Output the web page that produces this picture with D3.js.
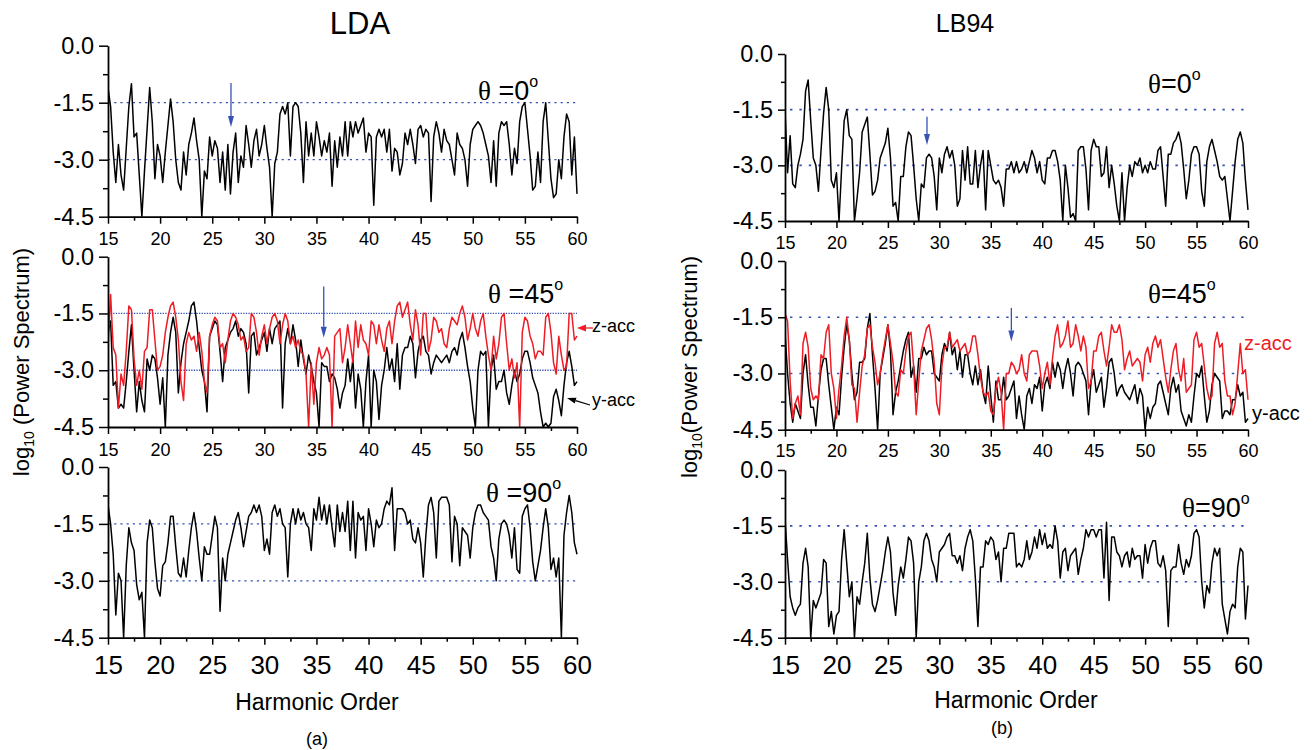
<!DOCTYPE html>
<html><head><meta charset="utf-8">
<script src="https://cdn.jsdelivr.net/npm/d3@7"></script>
<style>
body{margin:0;background:#fff}
svg{display:block}
text{font-family:"Liberation Sans",Arial,Helvetica,sans-serif;fill:#000}
</style>
</head><body>
<svg id="chart" width="1316" height="750"></svg>
<script>
// ---------- axis ticks ----------
const xTicks = [15, 20, 25, 30, 35, 40, 45, 50, 55, 60];
const xMinorTicks = [17.5, 22.5, 27.5, 32.5, 37.5, 42.5, 47.5, 52.5, 57.5];
const yTicks = [0, -1.5, -3, -4.5];
const yMinorTicks = [-0.75, -2.25, -3.75];
const refLevels = [-1.5, -3.0];
const xDomain = [15, 60];
const yDomain = [-4.5, 0];

// ---------- data: log10(power spectrum), harmonic 15..60, step 0.25 ----------
const ldaTheta0 = [
-1.1,-1.6,-2.8,-3.6, -2.6,-3.4,-3.8,-2.7, -1.6,-1.0,-2.4,-2.3, -3.4,-4.5,-3.3,-2.2,
-1.1,-2.0,-3.5,-2.6, -2.9,-3.6,-2.8,-2.1, -1.4,-2.0,-3.0,-3.6, -3.8,-2.8,-3.4,-2.6,
-2.3,-1.9,-2.5,-3.0, -4.5,-3.3,-3.5,-2.4, -2.9,-2.5,-2.7,-3.6, -2.8,-3.8,-2.6,-3.9,
-2.8,-2.3,-3.6,-2.9, -3.2,-2.1,-2.6,-3.2, -2.5,-2.2,-2.9,-2.6, -2.1,-2.7,-3.2,-4.5,
-3.1,-2.8,-1.8,-1.6, -1.8,-1.5,-2.9,-1.6, -1.5,-1.6,-2.3,-3.6, -2.0,-2.9,-2.3,-2.9,
-2.0,-2.4,-2.9,-2.5, -2.8,-2.3,-3.7,-2.5, -3.2,-2.4,-2.9,-2.0, -2.9,-2.0,-2.4,-2.0,
-2.3,-2.1,-1.9,-2.8, -2.3,-2.4,-4.2,-2.4, -2.2,-2.4,-2.2,-2.8, -2.2,-3.3,-2.7,-2.8,
-3.4,-3.1,-2.3,-2.6, -2.2,-2.6,-3.1,-2.2, -2.1,-2.4,-2.2,-2.3, -4.1,-2.4,-2.0,-2.3,
-2.8,-2.2,-2.5,-2.6, -3.0,-3.4,-2.3,-2.6, -2.7,-3.0,-3.7,-2.6, -2.2,-2.1,-2.0,-2.1,
-2.3,-2.6,-2.9,-3.6, -2.5,-3.7,-2.3,-2.0, -2.1,-2.0,-2.6,-3.4, -2.7,-3.1,-2.0,-1.6,
-1.5,-2.2,-2.9,-3.8, -3.7,-2.8,-3.6,-2.0, -1.5,-2.5,-3.5,-4.0, -3.9,-3.0,-3.5,-2.4,
-1.8,-2.0,-3.4,-2.4, -3.9
];
const ldaTheta45Y = [
-2.0,-1.7,-3.4,-3.3, -4.0,-3.9,-4.0,-3.3, -2.5,-1.8,-3.0,-4.1, -3.3,-3.8,-4.1,-2.7,
-3.0,-2.6,-2.7,-3.2, -3.9,-3.2,-4.5,-2.6, -2.0,-1.6,-2.0,-3.6, -2.8,-2.3,-2.0,-1.7,
-1.3,-1.2,-1.7,-2.4, -3.0,-3.3,-4.1,-2.1, -1.9,-1.7,-1.8,-2.5, -3.3,-2.4,-2.2,-2.0,
-1.9,-1.7,-2.1,-1.9, -2.0,-2.3,-3.6,-2.1, -2.0,-2.6,-2.4,-2.2, -2.0,-2.5,-1.9,-2.3,
-1.9,-1.8,-1.7,-4.0, -2.3,-1.9,-2.3,-1.8, -2.2,-2.9,-2.2,-2.7, -3.1,-2.6,-2.9,-3.3,
-3.6,-4.5,-2.8,-2.9, -2.9,-3.3,-3.1,-3.2, -3.5,-4.0,-3.6,-3.4, -2.7,-3.3,-2.7,-4.0,
-3.1,-3.5,-4.5,-3.3, -2.6,-4.5,-3.0,-3.3, -4.3,-3.4,-3.0,-2.4, -3.0,-2.7,-3.3,-2.3,
-3.5,-2.6,-2.4,-2.4, -2.1,-2.3,-3.2,-2.5, -2.2,-2.1,-2.5,-2.6, -3.1,-2.8,-2.6,-2.7,
-2.8,-2.7,-2.6,-2.8, -2.5,-2.4,-2.6,-2.2, -2.0,-2.4,-2.9,-3.3, -4.0,-4.5,-3.0,-2.5,
-2.6,-2.5,-4.5,-3.0, -2.6,-3.5,-3.3,-3.3, -3.0,-3.6,-3.9,-3.4, -3.0,-3.3,-3.1,-2.7,
-2.5,-2.5,-2.8,-3.2, -3.4,-3.6,-4.1,-4.5, -4.4,-4.5,-4.4,-3.7, -3.5,-3.8,-4.2,-3.4,
-2.8,-2.5,-2.9,-3.4, -3.3
];
const ldaTheta45Z = [
-2.4,-1.0,-2.4,-2.6, -4.0,-3.1,-3.4,-2.5, -1.3,-1.4,-2.7,-3.4, -3.0,-3.5,-2.5,-2.4,
-1.4,-1.4,-2.2,-3.0, -2.9,-2.6,-2.0,-1.6, -1.3,-1.2,-1.6,-2.2, -3.3,-3.8,-2.3,-2.0,
-2.2,-2.1,-2.5,-2.0, -2.5,-3.3,-3.6,-2.1, -1.8,-1.6,-1.7,-2.4, -2.3,-2.8,-2.2,-1.7,
-1.5,-1.6,-1.8,-2.2, -2.1,-2.5,-2.4,-1.5, -1.6,-2.0,-2.6,-2.1, -1.8,-2.3,-1.9,-1.6,
-1.5,-1.7,-2.3,-1.8, -1.5,-1.7,-2.3,-2.1, -2.4,-2.2,-2.5,-2.6, -3.1,-4.5,-2.8,-3.9,
-2.8,-2.4,-2.7,-2.6, -2.4,-2.6,-4.5,-2.1, -2.0,-1.9,-2.8,-2.4, -1.8,-2.3,-2.8,-1.7,
-2.4,-1.8,-2.2,-2.3, -2.6,-1.7,-1.8,-2.3, -1.8,-2.2,-2.5,-1.9, -1.7,-2.3,-1.7,-1.3,
-1.2,-1.6,-1.4,-1.2, -1.8,-2.2,-1.4,-1.8, -2.6,-1.5,-1.5,-2.5, -2.2,-1.6,-1.7,-2.0,
-1.9,-2.3,-2.4,-1.9, -1.6,-1.7,-1.8,-1.5, -1.3,-1.6,-2.2,-1.9, -1.5,-1.9,-2.1,-1.7,
-1.5,-2.1,-2.6,-3.0, -2.1,-2.7,-2.3,-1.6, -1.5,-2.3,-3.0,-2.7, -3.2,-2.8,-4.5,-2.0,
-1.6,-1.7,-2.1,-2.3, -2.7,-2.5,-2.5,-2.6, -1.6,-1.5,-2.0,-2.8, -3.1,-2.1,-2.6,-3.0,
-2.9,-1.5,-1.5,-2.2, -2.1
];
const ldaTheta90 = [
-1.0,-1.5,-2.3,-3.9, -2.8,-3.0,-4.5,-2.6, -1.6,-2.0,-2.2,-3.1, -3.5,-3.3,-4.5,-2.0,
-1.4,-1.6,-2.5,-3.2, -3.4,-2.6,-2.5,-2.0, -1.3,-1.3,-2.1,-2.8, -2.9,-2.4,-2.9,-2.2,
-1.6,-1.2,-1.7,-2.4, -3.0,-2.1,-2.3,-2.3, -1.8,-1.3,-1.6,-3.8, -2.4,-3.0,-2.3,-2.0,
-1.7,-1.4,-1.2,-1.6, -2.1,-1.7,-1.3,-1.2, -1.0,-1.2,-1.0,-1.3, -2.2,-1.9,-2.3,-1.2,
-1.0,-1.3,-1.1,-1.5, -1.6,-2.9,-1.5,-1.1, -1.5,-1.1,-1.4,-1.2, -1.5,-1.6,-2.2,-1.1,
-1.4,-0.8,-1.4,-1.0, -1.5,-1.0,-1.6,-2.1, -1.0,-1.7,-1.2,-1.7, -0.9,-2.2,-0.9,-2.4,
-1.2,-1.4,-1.3,-2.2, -1.1,-1.5,-2.1,-1.4, -1.6,-1.5,-1.1,-0.9, -1.0,-0.55,-2.2,-1.1,
-1.1,-1.1,-1.2,-1.5, -1.4,-1.9,-2.0,-1.6, -2.0,-2.9,-1.8,-1.0, -0.8,-1.2,-2.4,-0.9,
-0.8,-0.8,-0.8,-1.0, -2.5,-1.3,-1.5,-2.6, -1.6,-1.7,-1.8,-2.4, -1.6,-1.2,-1.0,-1.0,
-1.2,-1.3,-1.4,-2.1, -2.4,-3.0,-1.9,-1.5, -1.4,-1.5,-1.8,-2.4, -1.6,-2.7,-2.8,-1.3,
-1.1,-1.0,-1.6,-2.5, -3.0,-2.6,-2.2,-1.6, -1.1,-1.6,-2.7,-2.4, -2.9,-2.4,-4.5,-1.8,
-1.2,-0.75,-1.2,-2.0, -2.3
];
const lbTheta0 = [
-1.5,-3.2,-2.2,-3.5, -3.6,-3.0,-2.7,-2.3, -1.0,-0.7,-1.8,-2.8, -3.0,-3.7,-2.6,-1.6,
-0.9,-1.5,-3.4,-3.6, -3.2,-4.5,-3.1,-1.8, -1.5,-2.2,-2.3,-4.5, -3.9,-3.2,-2.1,-1.9,
-1.7,-2.7,-3.8,-3.7, -3.4,-2.8,-2.6,-2.4, -2.0,-2.8,-4.1,-4.0, -4.5,-3.3,-3.3,-2.5,
-2.1,-2.2,-3.0,-3.9, -4.5,-3.5,-3.6,-2.8, -2.7,-2.8,-3.3,-4.2, -2.8,-3.2,-2.7,-2.5,
-2.8,-2.6,-3.0,-4.1, -3.9,-2.6,-3.4,-2.5, -3.5,-3.5,-2.6,-3.6, -3.0,-2.6,-4.2,-2.6,
-3.0,-3.4,-3.5,-3.4, -3.6,-4.1,-3.1,-3.1, -2.9,-3.2,-2.9,-3.2, -3.1,-2.9,-3.2,-2.9,
-2.6,-2.8,-3.2,-2.9, -3.4,-3.5,-2.8,-2.8, -2.6,-2.6,-2.9,-3.4, -4.5,-3.0,-3.6,-4.4,
-4.3,-4.5,-2.6,-2.5, -2.5,-3.1,-4.2,-2.6, -2.3,-2.5,-2.5,-3.3, -3.2,-2.5,-3.6,-3.0,
-3.5,-4.1,-4.5,-3.2, -4.5,-3.6,-3.0,-3.3, -2.9,-3.0,-2.8,-3.2, -3.0,-3.2,-2.9,-3.1,
-3.1,-2.6,-2.5,-3.3, -4.1,-2.7,-2.7,-2.4, -2.3,-2.1,-2.4,-3.1, -3.9,-3.4,-2.7,-2.5,
-2.5,-2.7,-3.7,-4.1, -2.9,-2.5,-2.3,-2.6, -2.9,-3.3,-3.4,-3.3, -3.9,-4.5,-3.7,-2.9,
-2.3,-2.1,-2.4,-3.4, -4.2
];
const lbTheta45Y = [
-1.9,-3.0,-3.8,-4.3, -3.8,-4.0,-4.2,-3.0, -2.5,-3.3,-3.9,-3.9, -4.4,-3.6,-2.9,-2.6,
-2.6,-3.3,-3.9,-4.5, -3.9,-4.1,-3.1,-2.3, -1.7,-2.1,-3.0,-3.7, -3.5,-2.7,-2.7,-2.6,
-1.8,-1.4,-2.5,-3.4, -4.5,-3.0,-2.6,-2.2, -1.7,-2.4,-4.1,-3.5, -3.2,-2.8,-2.4,-2.1,
-1.9,-3.1,-2.8,-3.5, -2.6,-2.6,-2.3,-2.5, -2.4,-2.4,-3.0,-3.1, -3.2,-2.5,-2.2,-2.4,
-1.9,-2.5,-2.3,-2.9, -2.4,-3.1,-2.5,-2.5, -3.0,-3.3,-2.8,-3.3, -2.9,-3.5,-3.8,-2.8,
-3.6,-4.3,-3.2,-3.7, -3.7,-3.1,-3.7,-3.6, -3.4,-3.2,-4.2,-3.6, -4.1,-4.5,-3.6,-3.4,
-3.8,-3.3,-3.4,-3.1, -4.0,-3.3,-3.1,-3.4, -2.7,-3.1,-2.7,-2.9, -3.4,-2.9,-2.6,-3.0,
-3.6,-2.8,-2.7,-2.8, -3.0,-3.2,-4.1,-3.2, -2.9,-3.5,-3.3,-3.1, -3.9,-3.4,-2.7,-2.6,
-3.0,-3.6,-3.4,-3.3, -3.5,-3.6,-3.7,-3.5, -3.3,-3.8,-3.4,-3.6, -4.5,-3.9,-4.2,-3.9,
-3.8,-3.3,-3.2,-3.5, -3.8,-4.1,-3.4,-3.1, -3.5,-3.3,-4.0,-4.2, -4.4,-4.1,-4.3,-3.6,
-3.0,-3.1,-2.8,-3.6, -4.3,-4.0,-3.3,-3.0, -3.1,-3.2,-4.2,-4.0, -4.0,-4.1,-3.7,-3.7,
-3.3,-3.6,-3.5,-4.3, -4.2
];
const lbTheta45Z = [
-1.4,-1.6,-3.2,-4.2, -3.8,-3.6,-4.1,-2.2, -1.9,-2.3,-3.4,-3.7, -3.6,-3.7,-2.5,-2.6,
-1.9,-1.7,-3.0,-3.4, -4.2,-3.4,-2.8,-2.0, -1.5,-2.1,-3.3,-3.4, -4.3,-3.5,-2.8,-2.5,
-1.8,-1.7,-2.3,-2.7, -3.3,-3.0,-2.5,-2.1, -1.7,-2.2,-2.7,-3.5, -3.6,-2.9,-3.0,-2.4,
-2.0,-1.9,-2.8,-4.1, -3.2,-2.4,-2.1,-1.8, -1.7,-2.1,-2.7,-3.8, -4.1,-2.8,-2.3,-2.3,
-1.9,-2.3,-2.2,-2.1, -2.4,-2.3,-2.2,-2.5, -2.4,-2.0,-2.0,-2.5, -3.1,-3.5,-3.6,-3.5,
-4.0,-4.1,-3.4,-3.1, -3.5,-4.5,-3.0,-3.0, -2.7,-2.8,-3.0,-2.9, -2.5,-3.0,-3.2,-2.5,
-2.4,-2.4,-2.4,-2.8, -3.4,-3.0,-2.7,-3.3, -2.6,-2.0,-1.7,-2.3, -2.2,-2.0,-1.6,-2.3,
-2.2,-1.7,-2.0,-2.4, -2.0,-2.3,-3.4,-3.2, -2.4,-2.4,-2.0,-1.9, -2.4,-2.8,-2.3,-1.7,
-1.9,-1.9,-1.7,-2.1, -2.9,-2.6,-2.4,-2.8, -2.7,-2.6,-2.7,-3.2, -2.5,-2.3,-2.7,-2.2,
-2.0,-2.3,-2.1,-2.6, -3.1,-3.5,-2.9,-2.4, -2.2,-2.9,-3.2,-2.6, -3.5,-3.4,-3.3,-2.1,
-1.9,-2.3,-2.2,-2.8, -3.4,-3.7,-3.6,-2.2, -1.9,-2.3,-2.2,-3.2, -3.6,-3.6,-4.1,-3.8,
-3.0,-2.2,-3.0,-2.9, -3.7
];
const lbTheta90 = [
-1.3,-2.4,-3.4,-3.7, -3.9,-3.7,-3.6,-2.5, -2.1,-2.6,-4.5,-3.5, -3.7,-3.5,-3.3,-2.4,
-2.5,-4.2,-3.8,-4.4, -3.9,-3.8,-2.4,-1.6, -2.5,-3.4,-3.0,-4.5, -3.4,-3.6,-3.0,-2.5,
-1.7,-2.9,-3.6,-3.8, -3.5,-3.1,-2.7,-2.2, -1.8,-2.2,-3.3,-3.9, -3.1,-2.6,-2.9,-2.4,
-1.8,-1.9,-2.5,-4.5, -3.0,-2.6,-1.9,-1.7, -1.9,-2.4,-2.6,-3.0, -2.2,-2.1,-2.0,-1.8,
-1.7,-2.3,-2.3,-2.5, -2.3,-2.7,-2.1,-1.8, -1.6,-1.9,-2.9,-4.2, -2.6,-2.6,-1.9,-2.0,
-1.8,-1.9,-2.4,-2.2, -3.0,-2.1,-2.1,-1.7, -1.7,-1.7,-2.6,-2.5, -2.6,-2.4,-1.9,-2.4,
-2.2,-1.8,-2.1,-1.6, -2.0,-1.7,-2.1,-2.0, -2.1,-1.5,-1.9,-2.9, -2.2,-2.1,-2.7,-2.3,
-2.2,-2.1,-2.8,-2.4, -2.1,-1.6,-1.8,-1.6, -1.6,-1.8,-1.6,-1.6, -2.9,-1.4,-3.5,-1.8,
-1.8,-2.2,-2.3,-2.6, -2.3,-2.2,-2.6,-2.1, -2.4,-2.3,-2.3,-2.9, -2.0,-2.5,-2.1,-1.9,
-1.9,-2.5,-2.6,-2.3, -2.7,-4.2,-2.7,-2.6, -2.6,-2.0,-2.5,-2.8, -2.4,-2.6,-2.3,-1.7,
-1.6,-1.8,-3.0,-3.7, -3.1,-3.3,-2.5,-2.1, -2.3,-2.1,-3.6,-4.0, -4.4,-3.8,-3.6,-3.7,
-2.6,-2.1,-2.2,-4.0, -3.1
];

// ---------- layout ----------
const BLACK = "#000000", RED = "#ee1c24", BLUE = "#3652b4";
const panels = [
  {x0:108, x1:577, yt:45.7, yb:216.7, side:"L", big:false, dash:"2.2,4", refStart:0,
   series:[{v:ldaTheta0,c:BLACK}], theta:{t:"\u03b8 =0", x:478, y:100}, arrow:{h:26.8, from:-0.98, to:-2.14}},
  {x0:108, x1:577, yt:256.7, yb:427, side:"L", big:false, dash:"1.3,1.3", refStart:0,
   series:[{v:ldaTheta45Y,c:BLACK},{v:ldaTheta45Z,c:RED}], theta:{t:"\u03b8 =45", x:488, y:303}, arrow:{h:35.7, from:-0.79, to:-2.14}},
  {x0:108, x1:577, yt:467, yb:637.7, side:"L", big:true, dash:"2.2,4", refStart:0,
   series:[{v:ldaTheta90,c:BLACK}], theta:{t:"\u03b8 =90", x:486, y:502}},
  {x0:785, x1:1248, yt:54, yb:221, side:"R", big:false, dash:"2.4,7", refStart:5,
   series:[{v:lbTheta0,c:BLACK}], theta:{t:"\u03b8=0", x:1148, y:93}, arrow:{h:28.8, from:-1.69, to:-2.45}},
  {x0:785, x1:1248, yt:261, yb:429.7, side:"R", big:false, dash:"2.4,7", refStart:5,
   series:[{v:lbTheta45Y,c:BLACK},{v:lbTheta45Z,c:RED}], theta:{t:"\u03b8=45", x:1148, y:303}, arrow:{h:37.0, from:-1.25, to:-2.15}},
  {x0:785, x1:1248, yt:470, yb:637.7, side:"R", big:true, dash:"2.4,7", refStart:5,
   series:[{v:lbTheta90,c:BLACK}], theta:{t:"\u03b8=90", x:1182, y:517}}
];

const svg = d3.select("#chart");
const defs = svg.append("defs");
const FONT = '"Liberation Sans",Arial,sans-serif';

function arrowHead(g, x1, y1, x2, y2, color, len, wid, sw) {
  const a = Math.atan2(y2 - y1, x2 - x1);
  const bx = x2 - len * Math.cos(a), by = y2 - len * Math.sin(a);
  g.append("line").attr("x1", x1).attr("y1", y1).attr("x2", bx).attr("y2", by)
    .attr("stroke", color).attr("stroke-width", sw);
  const px = -Math.sin(a) * wid / 2, py = Math.cos(a) * wid / 2;
  g.append("polygon")
    .attr("points", `${x2},${y2} ${bx + px},${by + py} ${bx - px},${by - py}`)
    .attr("fill", color);
}

panels.forEach((p, i) => {
  const x = d3.scaleLinear().domain(xDomain).range([p.x0, p.x1]);
  const y = d3.scaleLinear().domain(yDomain).range([p.yb, p.yt]);
  const g = svg.append("g");
  const clipId = "clip" + i;
  defs.append("clipPath").attr("id", clipId).append("rect")
    .attr("x", p.x0).attr("y", p.yt - 30).attr("width", p.x1 - p.x0 + 1).attr("height", p.yb - p.yt + 30);

  // reference dotted lines
  refLevels.forEach(v => {
    g.append("line").attr("x1", x(15) + p.refStart).attr("x2", x(60))
      .attr("y1", y(v)).attr("y2", y(v))
      .attr("stroke", BLUE).attr("stroke-width", p.side === "R" ? 1.6 : 1.3)
      .attr("stroke-dasharray", p.dash);
  });

  // spectra
  p.series.forEach(s => {
    const n = s.v.length;
    const line = d3.line().x((d, k) => x(15 + k * 45 / (n - 1))).y(d => y(d));
    g.append("path").attr("d", line(s.v)).attr("fill", "none")
      .attr("stroke", s.c).attr("stroke-width", 1.5).attr("stroke-linejoin", "round")
      .attr("clip-path", `url(#${clipId})`);
  });

  // axes
  const yMajor = p.side === "L" ? 9 : 7;
  const yAxis = d3.axisLeft(y).tickValues(yTicks).tickSize(yMajor).tickSizeOuter(0)
    .tickPadding(p.side === "L" ? 5 : 5).tickFormat(d => d.toFixed(1));
  const ya = g.append("g").attr("transform", `translate(${p.x0},0)`).call(yAxis);
  ya.selectAll("text").attr("font-size", 23.5).style("font-family", FONT);
  const yMin = g.append("g").attr("transform", `translate(${p.x0},0)`)
    .call(d3.axisLeft(y).tickValues(yMinorTicks).tickSize(p.side === "L" ? 5 : 4).tickFormat(""));
  yMin.select(".domain").remove();

  const xAxis = d3.axisBottom(x).tickValues(xTicks).tickSize(7).tickSizeOuter(0)
    .tickPadding(p.big ? 10.5 : (p.side === "L" ? 9 : 8)).tickFormat(d3.format("d"));
  const xa = g.append("g").attr("transform", `translate(0,${p.yb})`).call(xAxis);
  xa.selectAll("text").attr("font-size", p.big ? 26 : 18).style("font-family", FONT);
  const xMin = g.append("g").attr("transform", `translate(0,${p.yb})`)
    .call(d3.axisBottom(x).tickValues(xMinorTicks).tickSize(4).tickFormat(""));
  xMin.select(".domain").remove();

  g.selectAll(".domain").attr("stroke-width", 1.8);
  g.selectAll(".tick line").attr("stroke-width", 1.5);

  // theta label
  const t = g.append("text").attr("x", p.theta.x).attr("y", p.theta.y).attr("font-size", 27);
  const parts = p.theta.t.split("\u03b8");
  t.append("tspan").text("\u03b8").style("font-family", '"Liberation Serif","Times New Roman",serif');
  t.append("tspan").text(parts[1]);
  t.append("tspan").text("o").attr("font-size", 16).attr("dy", -13);

  // blue arrow
  if (p.arrow) {
    arrowHead(g, x(p.arrow.h), y(p.arrow.from), x(p.arrow.h), y(p.arrow.to), BLUE, 11, 6, 1.3);
  }
});

// panel titles
svg.append("text").attr("x", 360).attr("y", 34).attr("text-anchor", "middle").attr("font-size", 31).text("LDA");
svg.append("text").attr("x", 965).attr("y", 32).attr("text-anchor", "middle").attr("font-size", 25).text("LB94");

// y titles
function yTitle(cx, cy, gap) {
  const t = svg.append("text").attr("transform", `translate(${cx},${cy}) rotate(-90)`)
    .attr("text-anchor", "middle").attr("font-size", 22);
  t.append("tspan").text("log");
  t.append("tspan").text("10").attr("font-size", 14).attr("dy", 5);
  t.append("tspan").text(gap + "(Power Spectrum)").attr("dy", -5);
}
yTitle(29, 362, "\u00a0");
yTitle(697, 367, "");

// x titles
svg.append("text").attr("x", 317).attr("y", 710).attr("text-anchor", "middle").attr("font-size", 23).text("Harmonic Order");
svg.append("text").attr("x", 1016).attr("y", 708).attr("text-anchor", "middle").attr("font-size", 23).text("Harmonic Order");
svg.append("text").attr("x", 317).attr("y", 745).attr("text-anchor", "middle").attr("font-size", 18).text("(a)");
svg.append("text").attr("x", 1002).attr("y", 734).attr("text-anchor", "middle").attr("font-size", 18).text("(b)");

// series labels
const ann = svg.append("g");
ann.append("text").attr("x", 592).attr("y", 332).attr("font-size", 18).text("z-acc");
arrowHead(ann, 593, 328, 577, 328, RED, 9, 7, 1.3);
ann.append("text").attr("x", 592).attr("y", 406).attr("font-size", 18).text("y-acc");
arrowHead(ann, 590, 405, 567, 398, BLACK, 9, 6, 1.2);
ann.append("text").attr("x", 1244).attr("y", 350).attr("font-size", 20).style("fill", RED).text("z-acc");
ann.append("text").attr("x", 1252).attr("y", 420).attr("font-size", 20).text("y-acc");
</script>
</body></html>
